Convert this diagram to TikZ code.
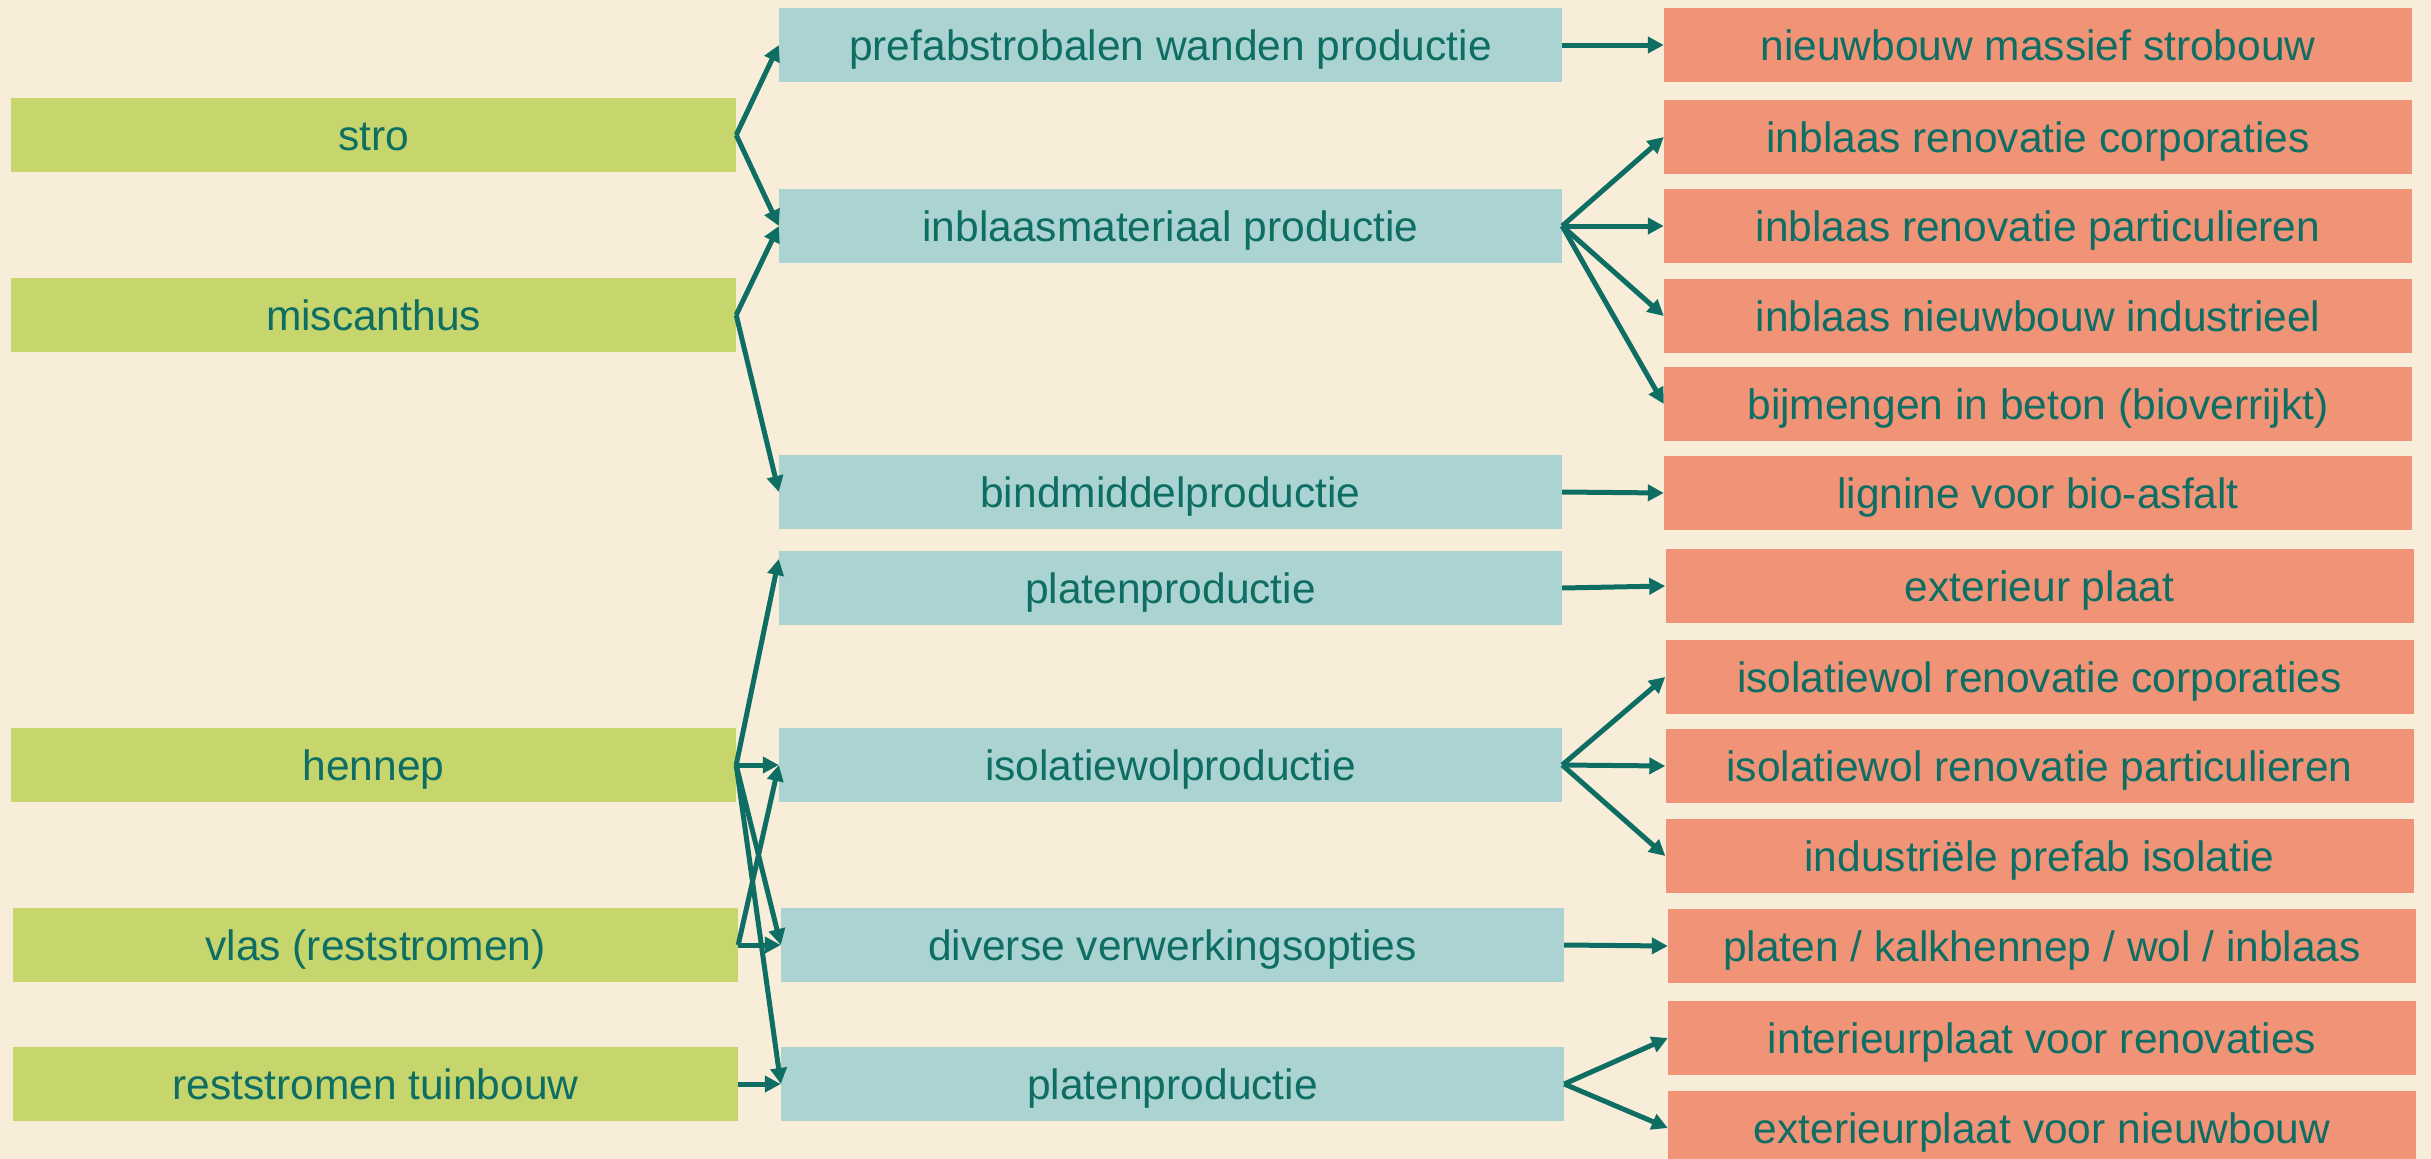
\documentclass[tikz,border=0pt]{standalone}
\usepackage{fontspec}
\setmainfont{Liberation Sans}
\usetikzlibrary{arrows.meta}
\definecolor{bgcol}{HTML}{F7EDD8}
\definecolor{greencol}{HTML}{C6D66C}
\definecolor{bluecol}{HTML}{AAD3D2}
\definecolor{salmoncol}{HTML}{F09377}
\definecolor{tealcol}{HTML}{0F6E63}
\tikzset{
  box/.style={rectangle, inner sep=0pt, minimum height=74pt, text=tealcol,
    font=\fontsize{42.5}{50}\selectfont, text height=38pt, text depth=8pt},
  srcbox/.style={box, fill=greencol, minimum width=725pt},
  midbox/.style={box, fill=bluecol, minimum width=783pt},
  outbox/.style={box, fill=salmoncol, minimum width=748pt},
  conn/.style={draw=tealcol, line width=5pt, -{Triangle[length=16pt,width=16pt]}}
}
\begin{document}
\begin{tikzpicture}[x=1pt,y=-1pt]
\useasboundingbox (0,0) rectangle (2431,1159);
\fill[bgcol] (0,0) rectangle (2431,1159);
% sources
\node[srcbox] (stro) at (373.5,135) {stro};
\node[srcbox] (misc) at (373.5,315) {miscanthus};
\node[srcbox] (henn) at (373.5,765) {hennep};
\node[srcbox] (vlas) at (375.5,945) {vlas (reststromen)};
\node[srcbox] (tuin) at (375.5,1084) {reststromen tuinbouw};
% middle
\node[midbox] (prefab) at (1170.5,45) {prefabstrobalen wanden productie};
\node[midbox] (inbl) at (1170.5,226) {inblaasmateriaal productie};
\node[midbox] (bind) at (1170.5,492) {bindmiddelproductie};
\node[midbox] (plat1) at (1170.5,588) {platenproductie};
\node[midbox] (isol) at (1170.5,765) {isolatiewolproductie};
\node[midbox] (div) at (1172.5,945) {diverse verwerkingsopties};
\node[midbox] (plat2) at (1172.5,1084) {platenproductie};
% outputs
\node[outbox] (o1) at (2038,45) {nieuwbouw massief strobouw};
\node[outbox] (o2) at (2038,137) {inblaas renovatie corporaties};
\node[outbox] (o3) at (2038,226) {inblaas renovatie particulieren};
\node[outbox] (o4) at (2038,316) {inblaas nieuwbouw industrieel};
\node[outbox] (o5) at (2038,404) {bijmengen in beton (bioverrijkt)};
\node[outbox] (o6) at (2038,493) {lignine voor bio-asfalt};
\node[outbox] (o7) at (2039.5,586) {exterieur plaat};
\node[outbox] (o8) at (2039.5,677) {isolatiewol renovatie corporaties};
\node[outbox] (o9) at (2039.5,766) {isolatiewol renovatie particulieren};
\node[outbox] (o10) at (2039.5,856) {industriële prefab isolatie};
\node[outbox] (o11) at (2042,946) {platen / kalkhennep / wol / inblaas};
\node[outbox] (o12) at (2042,1038) {interieurplaat voor renovaties};
\node[outbox] (o13) at (2042,1128) {exterieurplaat voor nieuwbouw};
\coordinate (plat1in) at ([yshift=29pt]plat1.west);
% left connectors
\draw[conn] (stro.east) -- (prefab.west);
\draw[conn] (stro.east) -- (inbl.west);
\draw[conn] (misc.east) -- (inbl.west);
\draw[conn] (misc.east) -- (bind.west);
\draw[conn] (henn.east) -- (plat1in);
\draw[conn] (henn.east) -- (isol.west);
\draw[conn] (henn.east) -- (div.west);
\draw[conn] (henn.east) -- (plat2.west);
\draw[conn] (vlas.east) -- (isol.west);
\draw[conn] (vlas.east) -- (div.west);
\draw[conn] (tuin.east) -- (plat2.west);
% right connectors
\draw[conn] (prefab.east) -- (o1.west);
\draw[conn] (inbl.east) -- (o2.west);
\draw[conn] (inbl.east) -- (o3.west);
\draw[conn] (inbl.east) -- (o4.west);
\draw[conn] (inbl.east) -- (o5.west);
\draw[conn] (bind.east) -- (o6.west);
\draw[conn] (plat1.east) -- (o7.west);
\draw[conn] (isol.east) -- (o8.west);
\draw[conn] (isol.east) -- (o9.west);
\draw[conn] (isol.east) -- (o10.west);
\draw[conn] (div.east) -- (o11.west);
\draw[conn] (plat2.east) -- (o12.west);
\draw[conn] (plat2.east) -- (o13.west);
\end{tikzpicture}
\end{document}
